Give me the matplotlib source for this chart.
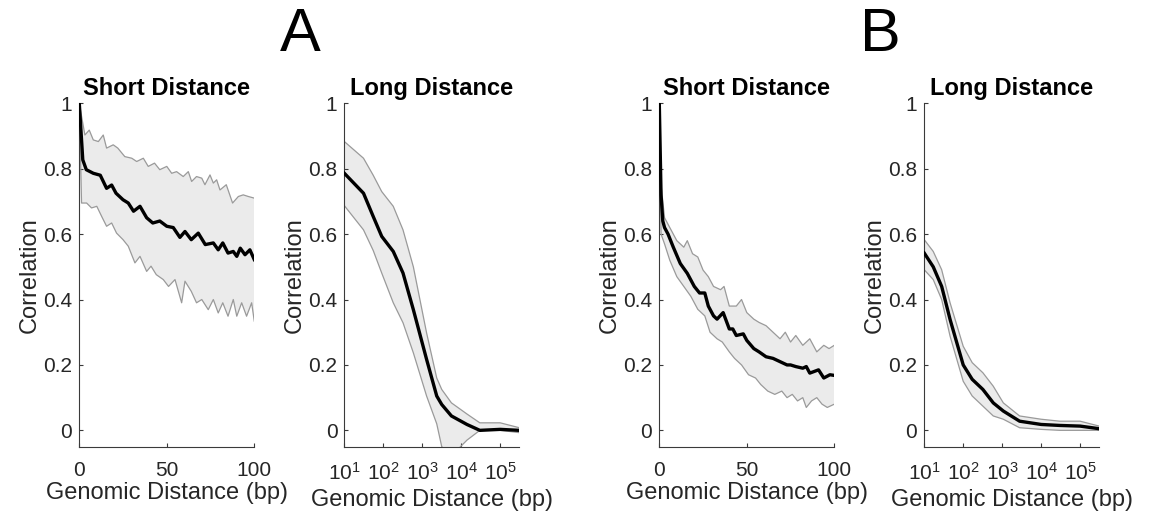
import numpy as np
import matplotlib
matplotlib.use("Agg")
import matplotlib.pyplot as plt

plt.rcParams['font.family'] = ['Liberation Sans', 'DejaVu Sans']
plt.rcParams['mathtext.fontset'] = 'custom'
plt.rcParams['mathtext.rm'] = 'Liberation Sans'

# ---- A, short distance ----
a_short_x = [0, 2, 4, 8, 12, 15.6, 18.5, 21, 25, 28, 31, 34.7, 38.5, 42, 46, 50, 53.7,
             57.5, 60.4, 64, 68, 72, 76.6, 79.4, 82, 85, 88, 90, 92, 94.7, 97.5, 100]
a_short_mean = [1.0, 0.827, 0.797, 0.786, 0.78, 0.74, 0.75, 0.725, 0.705, 0.695, 0.67, 0.685,
                0.65, 0.634, 0.64, 0.624, 0.62, 0.59, 0.608, 0.583, 0.603, 0.568, 0.573, 0.552,
                0.573, 0.542, 0.547, 0.532, 0.557, 0.537, 0.552, 0.522]
a_short_up_x = [0, 3.2, 5.7, 8, 10.9, 13.7, 15.6, 19.4, 22, 26, 30, 32.8, 36.6, 39.4, 43, 46,
                50, 52.8, 55.6, 59.4, 62.3, 64.2, 67, 70, 71.8, 74.7, 76.6, 78.5, 80.4, 84,
                87.6, 90.9, 93.7, 96.6, 100]
a_short_up = [1.0, 0.903, 0.918, 0.888, 0.883, 0.903, 0.863, 0.873, 0.863, 0.837, 0.832, 0.822,
              0.832, 0.807, 0.817, 0.797, 0.807, 0.786, 0.791, 0.776, 0.791, 0.761, 0.776, 0.771,
              0.751, 0.781, 0.756, 0.766, 0.735, 0.751, 0.695, 0.715, 0.72, 0.715, 0.71]
a_short_lo_x = [0, 1.3, 4.2, 7, 10, 12.8, 15.6, 18.5, 21.3, 25, 28, 31.8, 34.7, 38.5, 41, 44,
                48, 51, 54.7, 58.5, 60.4, 64, 67, 70, 73.7, 76.6, 79.4, 82, 85, 88, 90, 92.8,
                95.6, 98.5, 100]
a_short_lo = [1.0, 0.695, 0.695, 0.68, 0.685, 0.654, 0.624, 0.634, 0.603, 0.583, 0.563, 0.512,
              0.532, 0.486, 0.502, 0.476, 0.461, 0.44, 0.461, 0.39, 0.456, 0.425, 0.39, 0.4,
              0.369, 0.4, 0.359, 0.39, 0.349, 0.4, 0.349, 0.39, 0.349, 0.39, 0.334]

# ---- A, long distance ----
a_long_x = [10, 31, 55, 91, 180, 320, 590, 1290, 2350, 3160, 5600, 14000, 30000, 100000, 310000]
a_long_mean = [0.786, 0.725, 0.654, 0.593, 0.547, 0.481, 0.369, 0.217, 0.105, 0.079, 0.044,
               0.018, 0.0, 0.003, 0.0]
a_long_up = [0.883, 0.832, 0.78, 0.73, 0.685, 0.613, 0.5, 0.298, 0.16, 0.125, 0.084,
             0.05, 0.023, 0.023, 0.008]
a_long_lo = [0.687, 0.613, 0.55, 0.481, 0.39, 0.329, 0.237, 0.105, 0.02, -0.05, -0.078,
             -0.03, 0.0, 0.0, -0.007]

# ---- B, short distance ----
b_short_x = [0, 1, 2, 3, 5, 8, 12, 16, 20, 23, 26, 28, 31, 33, 36.5, 40, 42, 44, 48, 50, 54,
             57, 61, 65, 69, 73, 75, 78, 82, 84, 86, 91, 94, 97.5, 100]
b_short_mean = [1.0, 0.72, 0.64, 0.62, 0.6, 0.56, 0.51, 0.48, 0.44, 0.42, 0.42, 0.38, 0.35,
                0.34, 0.36, 0.31, 0.31, 0.29, 0.295, 0.275, 0.25, 0.24, 0.225, 0.22, 0.21,
                0.2, 0.2, 0.195, 0.19, 0.195, 0.175, 0.185, 0.16, 0.17, 0.168]
b_short_up_x = [0, 1, 3, 6, 10, 14, 16, 19, 22, 25, 28, 31, 35, 37, 40, 44, 47, 50, 54, 57,
                61, 65, 69, 72, 75, 78, 82, 86, 90, 94, 97, 100]
b_short_up = [1.0, 0.75, 0.65, 0.62, 0.58, 0.56, 0.58, 0.54, 0.53, 0.49, 0.47, 0.44, 0.43,
              0.44, 0.38, 0.38, 0.40, 0.36, 0.34, 0.33, 0.32, 0.30, 0.28, 0.30, 0.27, 0.29,
              0.26, 0.28, 0.24, 0.26, 0.25, 0.26]
b_short_lo_x = [0, 1, 3, 6, 10, 14, 18, 22, 26, 29, 33, 36, 40, 43, 47, 51, 55, 58, 62, 66,
                70, 73, 76, 79, 82, 84, 87, 90, 93, 96, 100]
b_short_lo = [1.0, 0.6, 0.57, 0.52, 0.47, 0.44, 0.41, 0.37, 0.35, 0.30, 0.28, 0.27, 0.24,
              0.22, 0.20, 0.17, 0.16, 0.14, 0.12, 0.11, 0.12, 0.10, 0.11, 0.09, 0.10, 0.07,
              0.09, 0.10, 0.08, 0.07, 0.08]

# ---- B, long distance ----
b_long_x = [10, 17, 28, 46, 100, 170, 320, 590, 1070, 2800, 10000, 30000, 100000, 310000]
b_long_mean = [0.542, 0.5, 0.44, 0.339, 0.2, 0.156, 0.125, 0.084, 0.059, 0.028, 0.018, 0.015,
               0.013, 0.005]
b_long_up = [0.583, 0.547, 0.491, 0.39, 0.257, 0.207, 0.176, 0.135, 0.084, 0.044, 0.034,
             0.028, 0.028, 0.013]
b_long_lo = [0.491, 0.461, 0.4, 0.288, 0.15, 0.105, 0.074, 0.044, 0.034, 0.008, 0.003, 0.0,
             0.0, 0.0]

fill_c = '#ebebeb'
edge_c = '#9a9a9a'
spine_c = '#3a3a3a'


def band(ax, x_up, up, x_lo, lo, x_m, m):
    xs = np.concatenate([x_up, x_lo[::-1]])
    ys = np.concatenate([up, lo[::-1]])
    ax.fill(xs, ys, color=fill_c, lw=0, zorder=1)
    ax.plot(x_up, up, color=edge_c, lw=0.9, zorder=2)
    ax.plot(x_lo, lo, color=edge_c, lw=0.9, zorder=2)
    ax.plot(x_m, m, color='black', lw=2.4, zorder=3)


def style(ax, title, xpad, lpad):
    for s in ['top', 'right']:
        ax.spines[s].set_visible(False)
    for s in ['left', 'bottom']:
        ax.spines[s].set_color(spine_c)
        ax.spines[s].set_linewidth(0.8)
    ax.set_ylim(-0.05, 1)
    ax.set_yticks([0, 0.2, 0.4, 0.6, 0.8, 1])
    ax.set_yticklabels(['0', '0.2', '0.4', '0.6', '0.8', '1'])
    ax.tick_params(direction='in', length=3, width=0.8, color=spine_c,
                   labelsize=15, labelcolor='#262626', pad=5)
    ax.tick_params(axis='x', pad=xpad)
    ax.set_ylabel('Correlation', fontsize=17, color='#262626', labelpad=2)
    ax.set_xlabel('Genomic Distance (bp)', fontsize=17, color='#262626', labelpad=lpad)
    ax.set_title(title, fontsize=17, fontweight='bold', pad=6)


fig = plt.figure(figsize=(11.49, 5.19), dpi=100)
bottom, height = 0.1393, 0.6617
width = 0.1523
lefts = [0.0690, 0.2997, 0.5738, 0.8044]
axes = [fig.add_axes([l, bottom, width, height]) for l in lefts]

# short-distance panels
for ax, (xu, u, xl, l, xm, m) in zip([axes[0], axes[2]],
                                     [(a_short_up_x, a_short_up, a_short_lo_x, a_short_lo,
                                       a_short_x, a_short_mean),
                                      (b_short_up_x, b_short_up, b_short_lo_x, b_short_lo,
                                       b_short_x, b_short_mean)]):
    band(ax, np.array(xu), np.array(u), np.array(xl), np.array(l), xm, m)
    style(ax, 'Short Distance', 10, 2)
    ax.set_xlim(0, 100)
    ax.set_xticks([0, 50, 100])

# long-distance panels
for ax, (x, m, u, l) in zip([axes[1], axes[3]],
                            [(a_long_x, a_long_mean, a_long_up, a_long_lo),
                             (b_long_x, b_long_mean, b_long_up, b_long_lo)]):
    x = np.array(x, dtype=float)
    band(ax, x, np.array(u), x, np.array(l), x, m)
    ax.set_xscale('log')
    style(ax, 'Long Distance', 11, 4)
    ax.set_xlim(10, 3.1e5)
    ax.set_xticks([1e1, 1e2, 1e3, 1e4, 1e5])
    ax.set_xticklabels([r'$\mathregular{10^{%d}}$' % k for k in range(1, 6)])
    ax.minorticks_off()

fig.text(0.261, 0.902, 'A', fontsize=44, ha='center', va='baseline')
fig.text(0.766, 0.902, 'B', fontsize=44, ha='center', va='baseline')

fig.savefig('out.png', dpi=100)
